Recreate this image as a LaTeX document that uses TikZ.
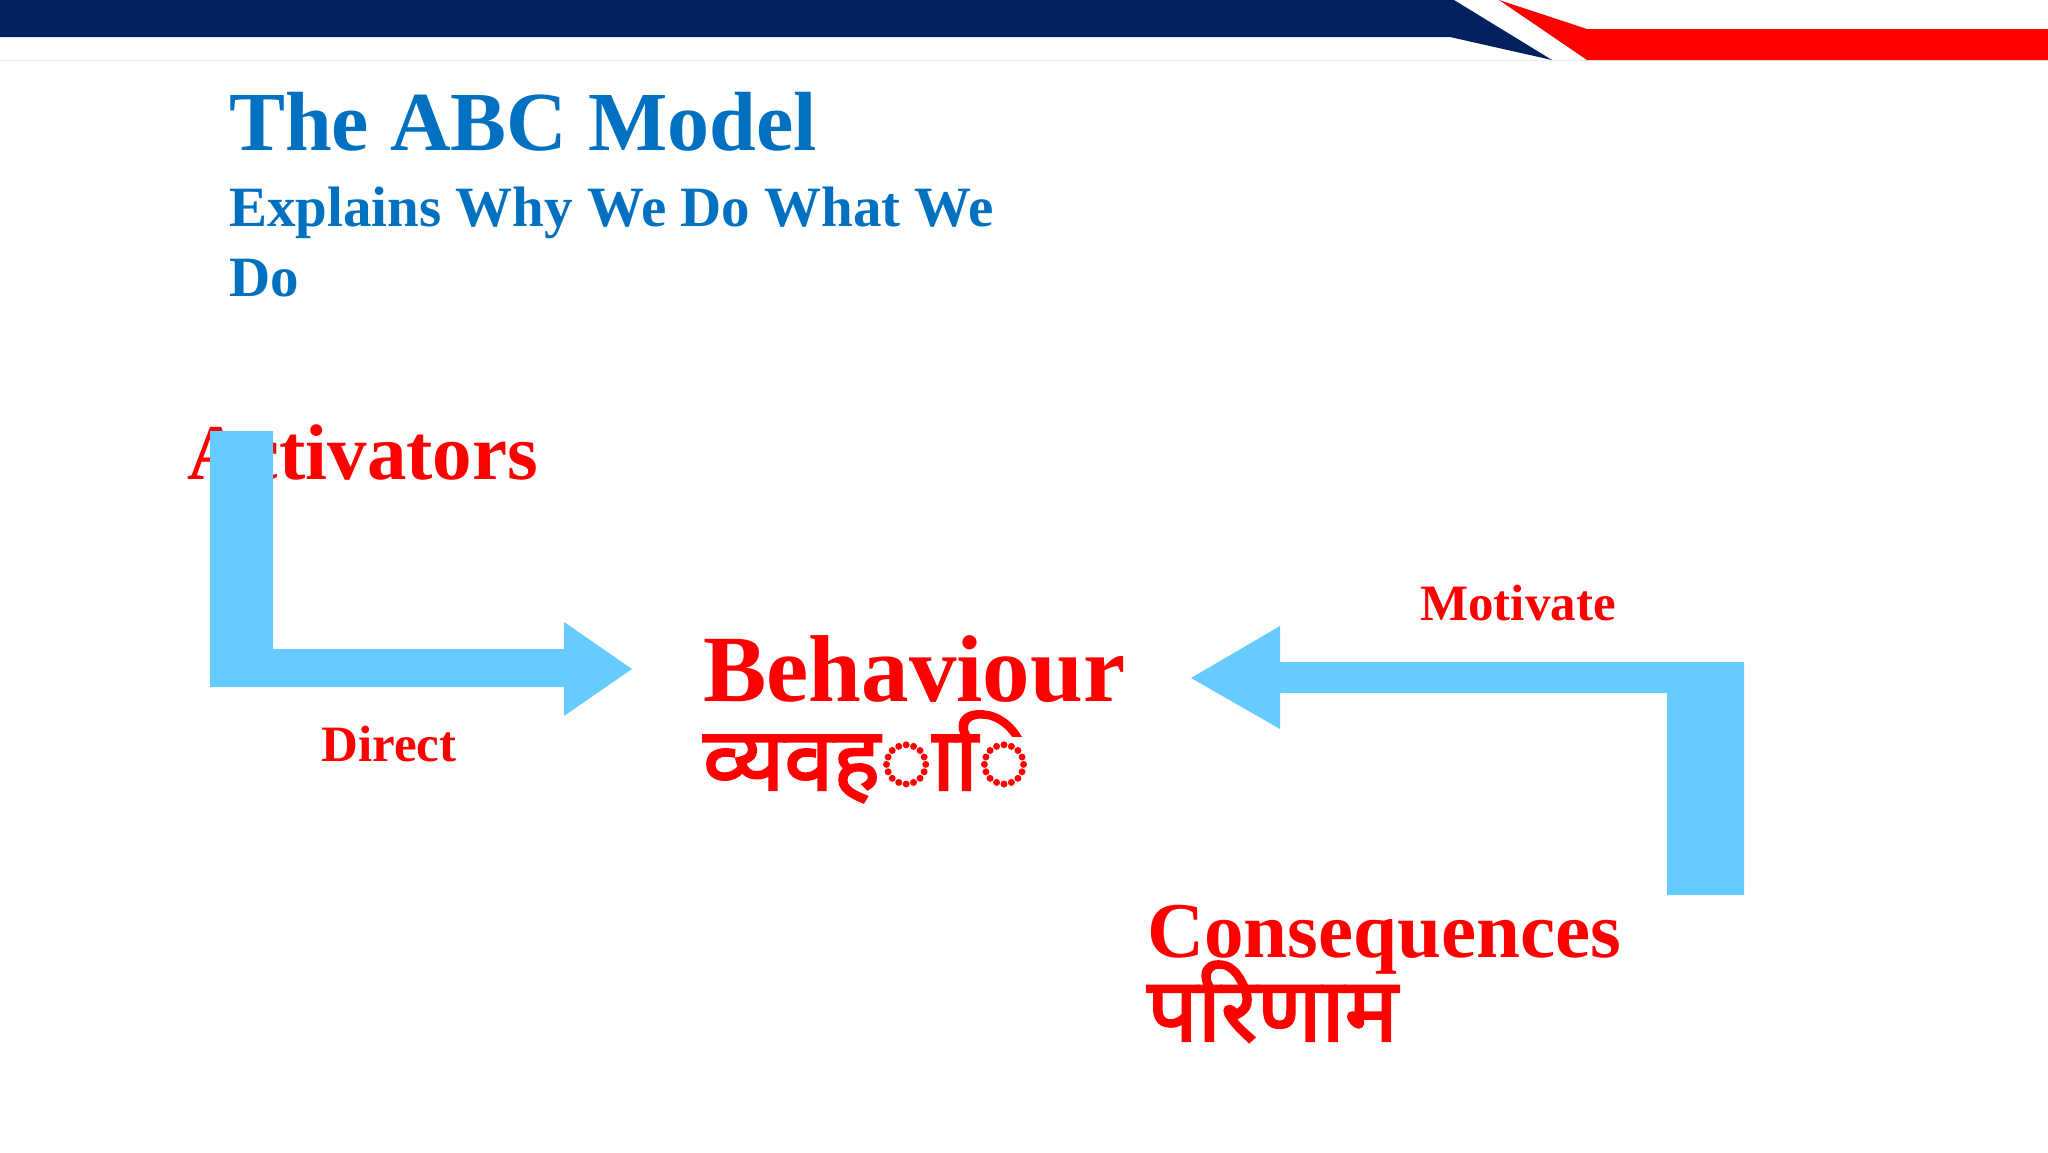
\documentclass[tikz,border=0pt]{standalone}
\usepackage{fontspec}
\setmainfont{Liberation Serif}
\newfontfamily\deva[Script=Devanagari,FakeBold=2.5]{Noto Sans}
\definecolor{ttlblue}{HTML}{0070C0}
\definecolor{navy}{HTML}{002060}
\definecolor{arrblue}{HTML}{66CCFF}
\definecolor{myred}{HTML}{FF0000}
\begin{document}
\begin{tikzpicture}[x=1pt,y=-1pt,
  txt/.style={inner sep=0pt,anchor=base west,font=\bfseries},
  arr/.style={fill=arrblue,draw=none}]
\useasboundingbox (0,0) rectangle (2048,1152);
% banner
\draw[gray!15,line width=1pt] (0,60) -- (2048,60);
\fill[navy] (0,0) -- (1454,0) -- (1552,60) -- (1450,37) -- (0,37) -- cycle;
\fill[myred] (1499,0) -- (1587,29) -- (2048,29) -- (2048,60) -- (1587,60) -- cycle;
% titles
\node[txt,text=ttlblue,font=\bfseries\fontsize{84}{84}\selectfont] (t) at (229,150) {The ABC Model};
\node[txt,text=ttlblue,font=\bfseries\fontsize{57}{57}\selectfont] (s1) at (229,226) {Explains Why We Do What We};
\node[txt,text=ttlblue,font=\bfseries\fontsize{57}{57}\selectfont] (s2) at (229,296) {Do};
% labels
\node[txt,text=myred,font=\bfseries\fontsize{79}{79}\selectfont] (a) at (187,479) {Activators};
\node[txt,text=myred,font=\bfseries\fontsize{95}{95}\selectfont] (b) at (703,701) {Behaviour};
\node[txt,text=myred,font=\deva\fontsize{88}{88}\selectfont] (bd) at (703,790) {व्यवह◌ा◌ि};
\node[txt,text=myred,font=\bfseries\fontsize{79}{79}\selectfont] (c) at (1147,957) {Consequences};
\node[txt,text=myred,font=\deva\fontsize{89}{89}\selectfont] (cd) at (1147,1041) {परिणाम};
\node[inner sep=0pt,anchor=base,text=myred,font=\bfseries\fontsize{51}{51}\selectfont] (d) at (389,761) {Direct};
\node[inner sep=0pt,anchor=base,text=myred,font=\bfseries\fontsize{51}{51}\selectfont] (m) at (1518,620) {Motivate};
% arrows
\fill[arr] (210,431) -- (273,431) -- (273,649) -- (564,649) -- (564,622) -- (632,669) -- (564,716) -- (564,687) -- (210,687) -- cycle;
\fill[arr] (1744,895) -- (1667,895) -- (1667,693) -- (1280,693) -- (1280,729) -- (1191,678) -- (1280,626) -- (1280,662) -- (1744,662) -- cycle;
\end{tikzpicture}
\end{document}
